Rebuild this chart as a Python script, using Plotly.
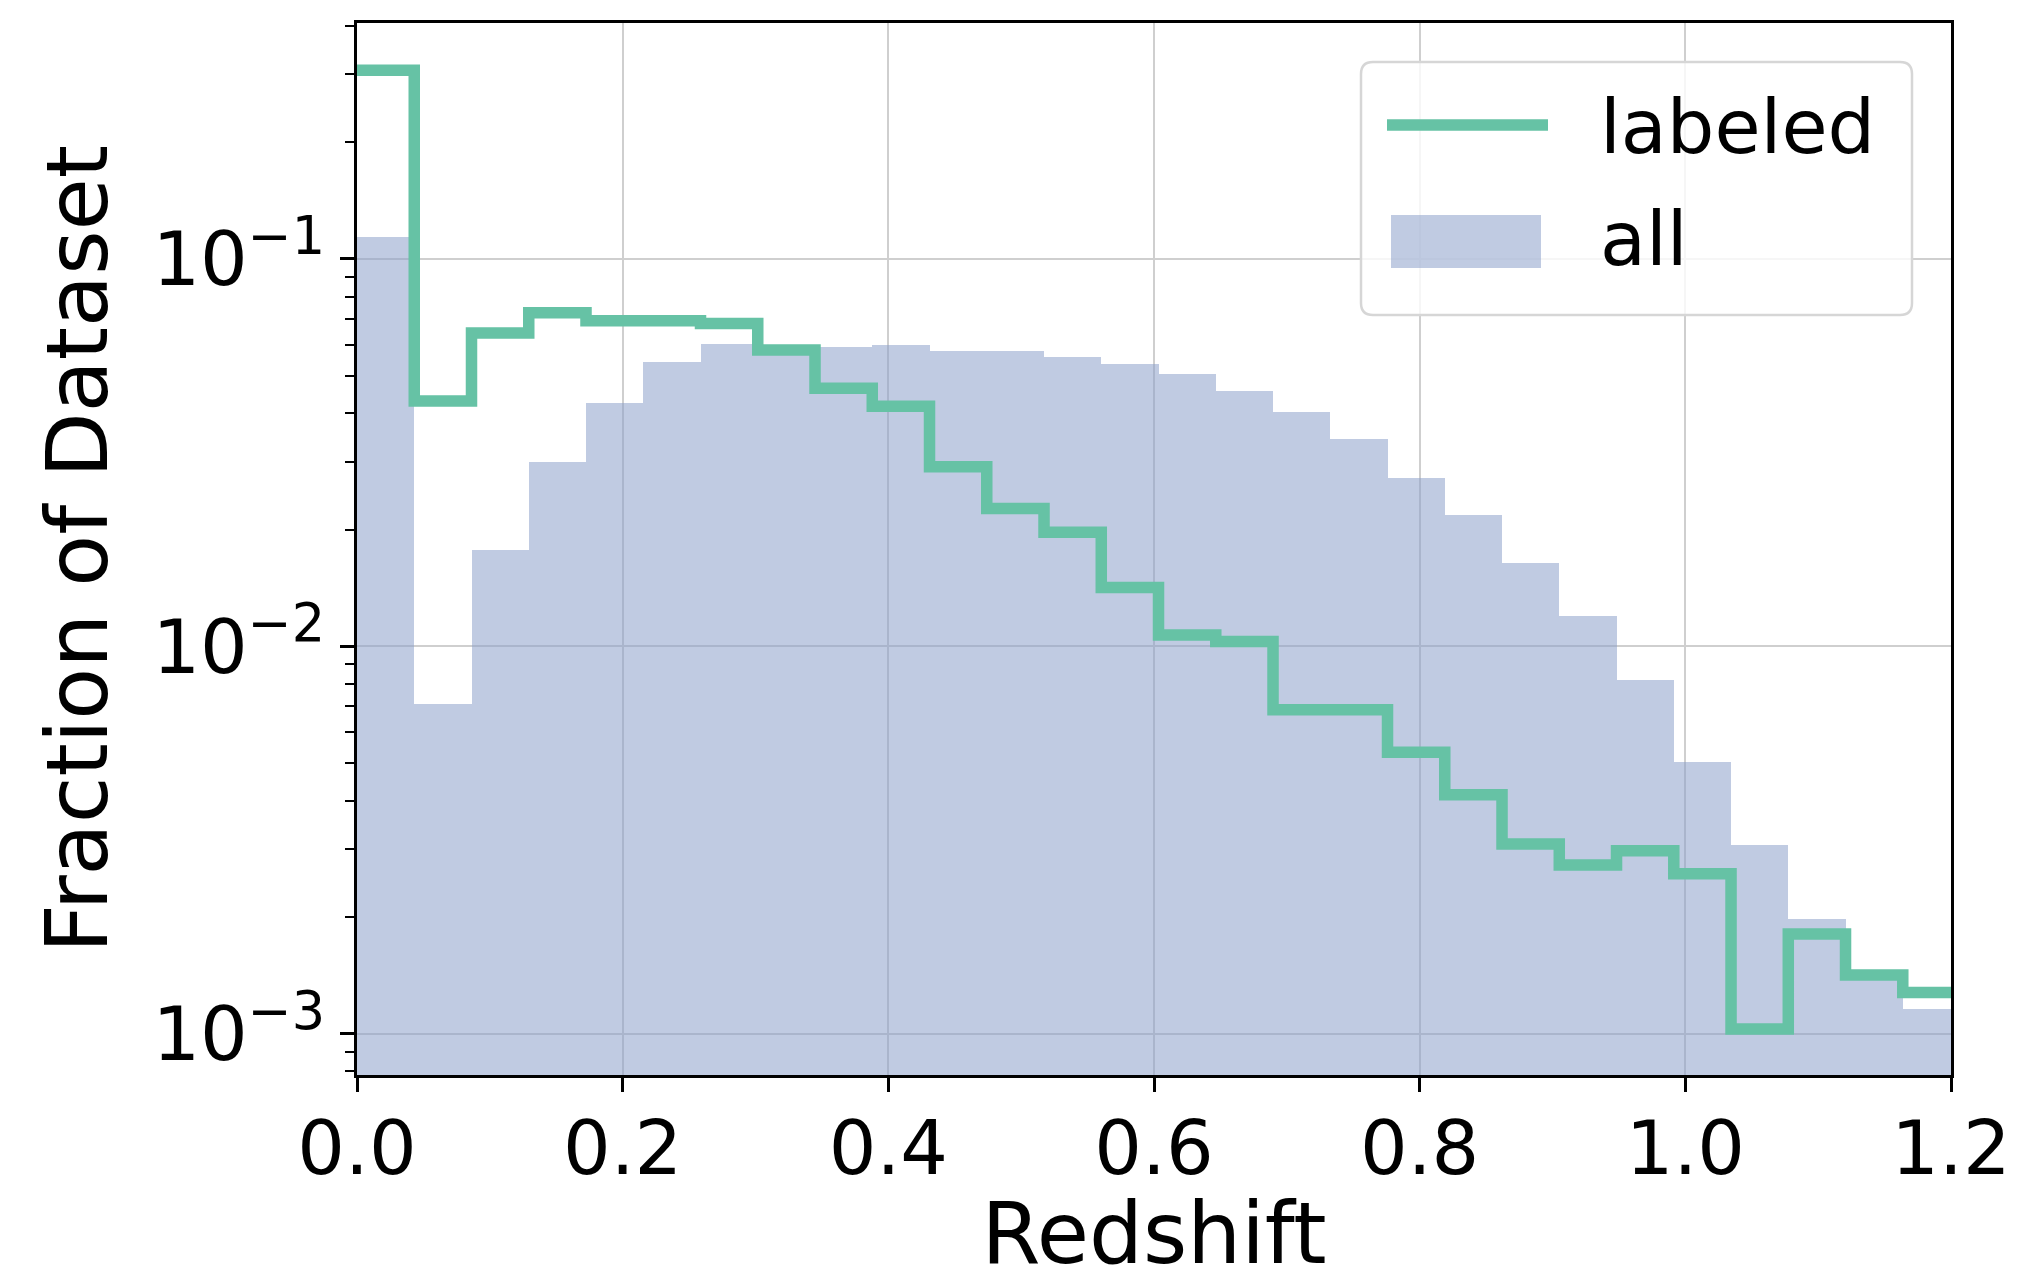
import plotly.graph_objects as go

# ---- data ----
bin_edges = [0.0, 0.0431, 0.0862, 0.1293, 0.1724, 0.2155, 0.2586, 0.3017, 0.3448,
             0.3879, 0.4310, 0.4741, 0.5172, 0.5603, 0.6034, 0.6465, 0.6896, 0.7327,
             0.7758, 0.8189, 0.8620, 0.9051, 0.9482, 0.9913, 1.0344, 1.0775, 1.1206,
             1.1637, 1.2068]

all_frac = [0.114, 0.0071, 0.0177, 0.0299, 0.0425, 0.0543, 0.0602, 0.0600, 0.0591,
            0.0600, 0.0578, 0.0578, 0.0560, 0.0535, 0.0505, 0.0456, 0.0402, 0.0343,
            0.0272, 0.0218, 0.0164, 0.0120, 0.0082, 0.00502, 0.00307, 0.00198,
            0.00142, 0.00116]

labeled_frac = [0.307, 0.0430, 0.0644, 0.0727, 0.0693, 0.0693, 0.0682, 0.0582, 0.0464,
                0.0417, 0.0291, 0.0227, 0.0197, 0.0142, 0.0107, 0.0103, 0.00686, 0.00686,
                0.00533, 0.00414, 0.00309, 0.00273, 0.00297, 0.00259, 0.00103, 0.00181,
                0.00142, 0.00128]

series_names = ["labeled", "all"]

x_ticks = [0.0, 0.2, 0.4, 0.6, 0.8, 1.0, 1.2]
x_tick_labels = ["0.0", "0.2", "0.4", "0.6", "0.8", "1.0", "1.2"]
y_ticks = [1e-3, 1e-2, 1e-1]
y_tick_labels = ["10<sup>\u22123</sup>", "10<sup>\u22122</sup>", "10<sup>\u22121</sup>"]
y_minor_ticks = [m * d for d in [1e-4, 1e-3, 1e-2, 1e-1] for m in range(2, 10)]

GREEN = "#66c2a5"
BLUE_FILL = "rgba(141,160,203,0.55)"
FONT = "DejaVu Sans"

# page body has an 8px margin; size the figure so it fits the 2019x1283 window
OFF = 8
W, H = 2019 - OFF, 1283 - OFF
ML, MR, MT, MB = 349, 68, 15, 208
PW, PH = W - ML - MR, H - MT - MB


def px(xw):
    return (xw - OFF - ML) / PW


def py(yw):
    return 1 - (yw - OFF - MT) / PH


centers = [(a + b) / 2 for a, b in zip(bin_edges[:-1], bin_edges[1:])]
widths = [b - a for a, b in zip(bin_edges[:-1], bin_edges[1:])]

fig = go.Figure()
fig.add_trace(go.Bar(
    x=centers, y=all_frac, width=widths, name=series_names[1],
    marker=dict(color=BLUE_FILL, line=dict(width=0)),
))
fig.add_trace(go.Scatter(
    x=bin_edges, y=labeled_frac + [labeled_frac[-1]], name=series_names[0],
    mode="lines", line=dict(color=GREEN, width=11.5, shape="hv"),
))

axis_common = dict(
    showline=True, linecolor="black", linewidth=2.5, mirror=True,
    ticks="outside", ticklen=14, tickwidth=2.5, tickcolor="black",
    showgrid=True, gridcolor="#cfcfcf", gridwidth=2,
    zeroline=False, automargin=False,
    tickfont=dict(family=FONT, size=75, color="black"),
)

# ---- legend (drawn as a boxed key, matplotlib style) ----
bx0, bx1, by0, by1, r = 1361, 1912, 62, 315, 12
rx, ry = r / PW, r / PH
X0, X1, Y0, Y1 = px(bx0), px(bx1), py(by1), py(by0)
box_path = (
    f"M{X0 + rx},{Y0} L{X1 - rx},{Y0} Q{X1},{Y0} {X1},{Y0 + ry} "
    f"L{X1},{Y1 - ry} Q{X1},{Y1} {X1 - rx},{Y1} "
    f"L{X0 + rx},{Y1} Q{X0},{Y1} {X0},{Y1 - ry} "
    f"L{X0},{Y0 + ry} Q{X0},{Y0} {X0 + rx},{Y0} Z"
)
shapes = [
    dict(type="path", path=box_path, xref="paper", yref="paper", layer="above",
         fillcolor="rgba(255,255,255,0.8)", line=dict(color="#d6d6d6", width=2.5)),
    dict(type="line", xref="paper", yref="paper", layer="above",
         x0=px(1387), x1=px(1548), y0=py(125), y1=py(125),
         line=dict(color=GREEN, width=11.5)),
    dict(type="rect", xref="paper", yref="paper", layer="above",
         x0=px(1391), x1=px(1541), y0=py(268), y1=py(215),
         fillcolor=BLUE_FILL, line=dict(width=0)),
]
annotations = [
    dict(text=series_names[0], xref="paper", yref="paper", x=px(1598), y=py(127),
         xanchor="left", yanchor="middle", showarrow=False,
         font=dict(family=FONT, size=75, color="black")),
    dict(text=series_names[1], xref="paper", yref="paper", x=px(1598), y=py(239),
         xanchor="left", yanchor="middle", showarrow=False,
         font=dict(family=FONT, size=75, color="black")),
]

fig.update_layout(
    width=W, height=H,
    margin=dict(l=ML, r=MR, t=MT, b=MB),
    paper_bgcolor="white", plot_bgcolor="white",
    bargap=0, barmode="overlay",
    font=dict(family=FONT, color="black"),
    showlegend=False,
    shapes=shapes, annotations=annotations,
    xaxis=dict(
        range=[0, 1.2], tickmode="array", tickvals=x_ticks, ticktext=x_tick_labels,
        ticklabelstandoff=-8,
        title=dict(text="Redshift", font=dict(family=FONT, size=85, color="black"), standoff=26),
        **axis_common,
    ),
    yaxis=dict(
        type="log", range=[-3.106, -0.391], tickmode="array",
        tickvals=y_ticks, ticktext=y_tick_labels,
        minor=dict(tickmode="array", tickvals=y_minor_ticks, ticks="outside",
                   ticklen=9, tickwidth=2, tickcolor="black", showgrid=False),
        title=dict(text="Fraction of Dataset", font=dict(family=FONT, size=85, color="black"), standoff=17),
        **axis_common,
    ),
)

fig.write_html("out.html")
